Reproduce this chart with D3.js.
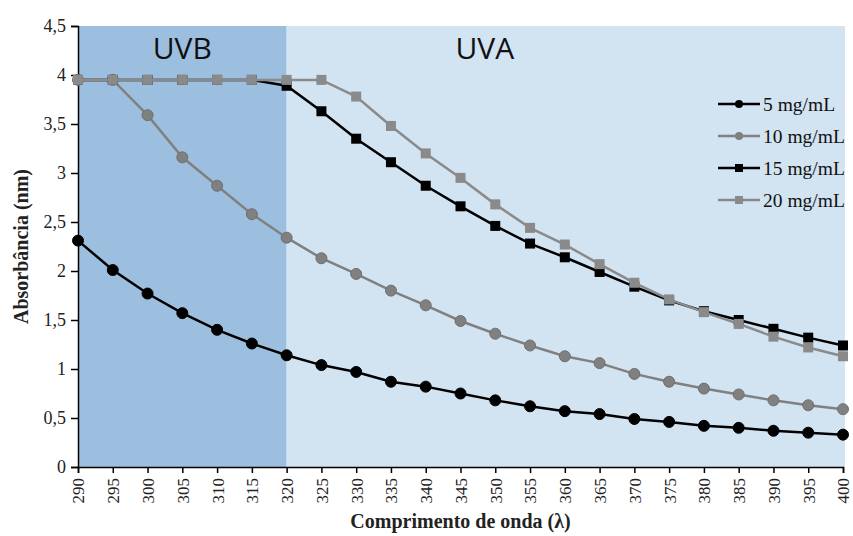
<!DOCTYPE html>
<html>
<head>
<meta charset="utf-8">
<script src="https://d3js.org/d3.v7.min.js"></script>
<style>
  body { margin: 0; background: #fff; }
  .tick text { font-family: "Liberation Serif", serif; font-size: 18px; fill: #222; }
  .x-axis .tick text { font-size: 17px; }
  .axis-title { font-family: "Liberation Serif", serif; font-size: 20px; font-weight: bold; fill: #222; }
  .band-label { font-family: "Open Sans", "Liberation Sans", sans-serif; font-size: 30px; fill: #111; }
  .legend text { font-family: "Liberation Serif", serif; font-size: 19.5px; fill: #111; }
</style>
</head>
<body>
<div id="chart"></div>
<script>
// wavelengths (nm)
var wavelengths = [290, 295, 300, 305, 310, 315, 320, 325, 330, 335, 340, 345,
                   350, 355, 360, 365, 370, 375, 380, 385, 390, 395, 400];

var conc5  = [2.31, 2.01, 1.77, 1.57, 1.40, 1.26, 1.14, 1.04, 0.97, 0.87, 0.82, 0.75,
              0.68, 0.62, 0.57, 0.54, 0.49, 0.46, 0.42, 0.40, 0.37, 0.35, 0.33];
var conc10 = [3.95, 3.95, 3.59, 3.16, 2.87, 2.58, 2.34, 2.13, 1.97, 1.80, 1.65, 1.49,
              1.36, 1.24, 1.13, 1.06, 0.95, 0.87, 0.80, 0.74, 0.68, 0.63, 0.59];
var conc15 = [3.95, 3.95, 3.95, 3.95, 3.95, 3.95, 3.89, 3.63, 3.35, 3.11, 2.87, 2.66,
              2.46, 2.28, 2.14, 1.99, 1.84, 1.70, 1.59, 1.50, 1.41, 1.32, 1.24];
var conc20 = [3.95, 3.95, 3.95, 3.95, 3.95, 3.95, 3.95, 3.95, 3.78, 3.48, 3.20, 2.95,
              2.68, 2.44, 2.27, 2.07, 1.88, 1.71, 1.58, 1.46, 1.33, 1.22, 1.13];

var seriesNames = ["5 mg/mL", "10 mg/mL", "15 mg/mL", "20 mg/mL"];
var yTicks = [0, 0.5, 1, 1.5, 2, 2.5, 3, 3.5, 4, 4.5];
var bands = [{ name: "UVB", from: 290, to: 320 }, { name: "UVA", from: 320, to: 400 }];

var series = [
  { name: seriesNames[0], values: conc5,  color: "#000",    shape: "circle" },
  { name: seriesNames[1], values: conc10, color: "#808080", shape: "circle" },
  { name: seriesNames[2], values: conc15, color: "#000",    shape: "square" },
  { name: seriesNames[3], values: conc20, color: "#8a8a8a", shape: "square" }
];

var width = 853, height = 536;
var margin = { top: 26, right: 10, bottom: 69, left: 78 };

var svg = d3.select("#chart").append("svg")
    .attr("width", width)
    .attr("height", height);

var x = d3.scaleLinear().domain([290, 400]).range([margin.left, width - margin.right]);
var y = d3.scaleLinear().domain([0, 4.5]).range([height - margin.bottom, margin.top]);

// background bands
svg.selectAll(".band")
  .data(bands)
  .enter().append("rect")
  .attr("x", d => x(d.from))
  .attr("y", y(4.5))
  .attr("width", d => x(d.to) - x(d.from) + (d.name === "UVA" ? 2 : 0))
  .attr("height", y(0) - y(4.5))
  .attr("fill", (d, i) => i === 0 ? "#9dbfdf" : "#d2e3f2");

svg.selectAll(".band-label")
  .data(bands)
  .enter().append("text")
  .attr("class", "band-label")
  .attr("x", d => d.name === "UVB" ? (x(d.from) + x(d.to)) / 2 : x(348.5))
  .attr("y", 59)
  .attr("text-anchor", "middle")
  .text(d => d.name);

// axes
var fmt = d3.format(",.1~f");
svg.append("g")
  .attr("transform", "translate(" + margin.left + ",0)")
  .call(d3.axisLeft(y).tickValues(yTicks).tickSize(7).tickPadding(5)
        .tickFormat(d => fmt(d).replace(".", ",")));

var xAxis = svg.append("g")
  .attr("class", "x-axis")
  .attr("transform", "translate(0," + y(0) + ")")
  .call(d3.axisBottom(x).tickValues(wavelengths).tickSize(6).tickFormat(d3.format("d")));

xAxis.selectAll("text")
  .attr("transform", "rotate(-90)")
  .attr("text-anchor", "end")
  .attr("x", -11)
  .attr("y", 0)
  .attr("dy", "0.35em");

svg.selectAll(".domain, .tick line").attr("stroke", "#000").attr("stroke-width", 1.5);

svg.append("text")
  .attr("class", "axis-title")
  .attr("x", (x(290) + x(400)) / 2)
  .attr("y", 528)
  .attr("text-anchor", "middle")
  .text("Comprimento de onda (λ)");

svg.append("text")
  .attr("class", "axis-title")
  .attr("transform", "translate(28," + (y(2.25)) + ") rotate(-90)")
  .attr("text-anchor", "middle")
  .text("Absorbância (nm)");

// lines and markers
var line = d3.line()
  .x((d, i) => x(wavelengths[i]))
  .y(d => y(d));

function drawMarker(sel, shape, color) {
  if (shape === "circle") {
    sel.append("circle").attr("r", 5.5).attr("fill", color)
      .attr("stroke", color === "#000" ? "#000" : "#6e6e6e").attr("stroke-width", 1);
  } else {
    sel.append("rect").attr("x", -5).attr("y", -5).attr("width", 10).attr("height", 10)
      .attr("fill", color);
  }
}

series.forEach(s => {
  svg.append("path")
    .datum(s.values)
    .attr("fill", "none")
    .attr("stroke", s.color)
    .attr("stroke-width", 2.5)
    .attr("d", line);

  svg.append("g").selectAll("g")
    .data(s.values)
    .enter().append("g")
    .attr("transform", (d, i) => "translate(" + x(wavelengths[i]) + "," + y(d) + ")")
    .each(function () { drawMarker(d3.select(this), s.shape, s.color); });
});

// legend
var legend = svg.append("g").attr("class", "legend")
  .attr("transform", "translate(718,104)");

var row = legend.selectAll("g")
  .data(series)
  .enter().append("g")
  .attr("transform", (d, i) => "translate(0," + (i * 32) + ")");

row.append("line")
  .attr("x1", 0).attr("x2", 42)
  .attr("stroke", d => d.color)
  .attr("stroke-width", 2.5);

row.each(function (d) {
  var g = d3.select(this).append("g").attr("transform", "translate(21,0)");
  if (d.shape === "circle") {
    g.append("circle").attr("r", 4).attr("fill", d.color);
  } else {
    g.append("rect").attr("x", -4).attr("y", -4).attr("width", 8).attr("height", 8).attr("fill", d.color);
  }
});

row.append("text")
  .attr("x", 45)
  .attr("dy", "0.35em")
  .text(d => d.name);
</script>
</body>
</html>
